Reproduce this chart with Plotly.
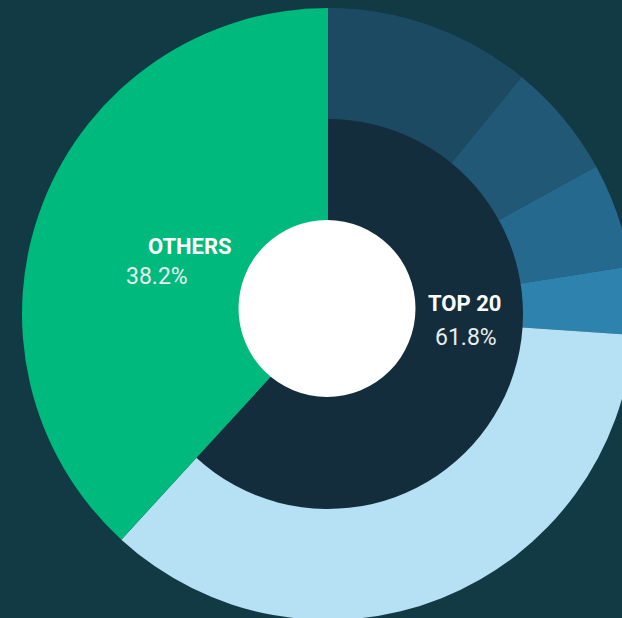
import plotly.graph_objects as go

# ---- data ----
outer_labels = ["Top 1-5", "Top 6-10", "Top 11-15", "Top 16-18", "Rest of top 20", "OTHERS"]
outer_values = [10.9, 6.1, 5.5, 3.6, 35.7, 38.2]
inner_labels = ["TOP 20", "OTHERS"]
inner_values = [61.8, 38.2]

outer_colors = ["#1d4a63", "#205875", "#26698e", "#2e82ae", "#b6e0f4", "#00b97c"]
inner_colors = ["#132d3d", "#00b97c"]
BG = "#123a44"

W, H = 640, 630

def dom_x(c, r):
    return [(c - r) / W, (c + r) / W]

def dom_y(c, r):
    return [1 - (c + r) / H, 1 - (c - r) / H]

fig = go.Figure()
fig.add_trace(go.Pie(
    labels=outer_labels, values=outer_values, sort=False, direction="clockwise",
    rotation=0, marker=dict(colors=outer_colors, line=dict(width=0)),
    textinfo="none", hoverinfo="label+percent", showlegend=False,
    domain=dict(x=dom_x(328, 306), y=dom_y(314, 306)),
))
fig.add_trace(go.Pie(
    labels=inner_labels, values=inner_values, sort=False, direction="clockwise",
    rotation=0, marker=dict(colors=inner_colors, line=dict(width=0)),
    textinfo="none", hoverinfo="label+percent", showlegend=False,
    domain=dict(x=dom_x(328, 195), y=dom_y(314, 195)),
))

# white centre disc
cx, cy, r = 327, 308.5, 88.5
fig.add_shape(type="circle", xref="paper", yref="paper", layer="above",
              x0=(cx - r) / W, x1=(cx + r) / W, y0=1 - (cy + r) / H, y1=1 - (cy - r) / H,
              fillcolor="white", line=dict(width=0))

def ann(text, px, py, bold, color, size):
    fig.add_annotation(x=px / W, y=1 - py / H, xref="paper", yref="paper",
                       text=f"<b>{text}</b>" if bold else text, showarrow=False,
                       xanchor="center", yanchor="middle",
                       font=dict(family="Roboto", size=size, color=color))

ann(inner_labels[1], 190, 247, True, "#ffffff", 22)
ann(f"{inner_values[1]}%", 157, 276, False, "#e8eef0", 23)
ann(inner_labels[0], 464, 303, True, "#ffffff", 22)
ann(f"{inner_values[0]}%", 466, 337, False, "#e8eef0", 23)

fig.update_layout(width=W, height=H, margin=dict(l=0, r=0, t=0, b=0),
                  paper_bgcolor=BG, plot_bgcolor=BG, showlegend=False)

fig.write_html("out.html", config={"displayModeBar": False},
               post_script="document.body.style.margin='0';document.body.style.overflow='hidden';document.documentElement.style.overflow='hidden';")
